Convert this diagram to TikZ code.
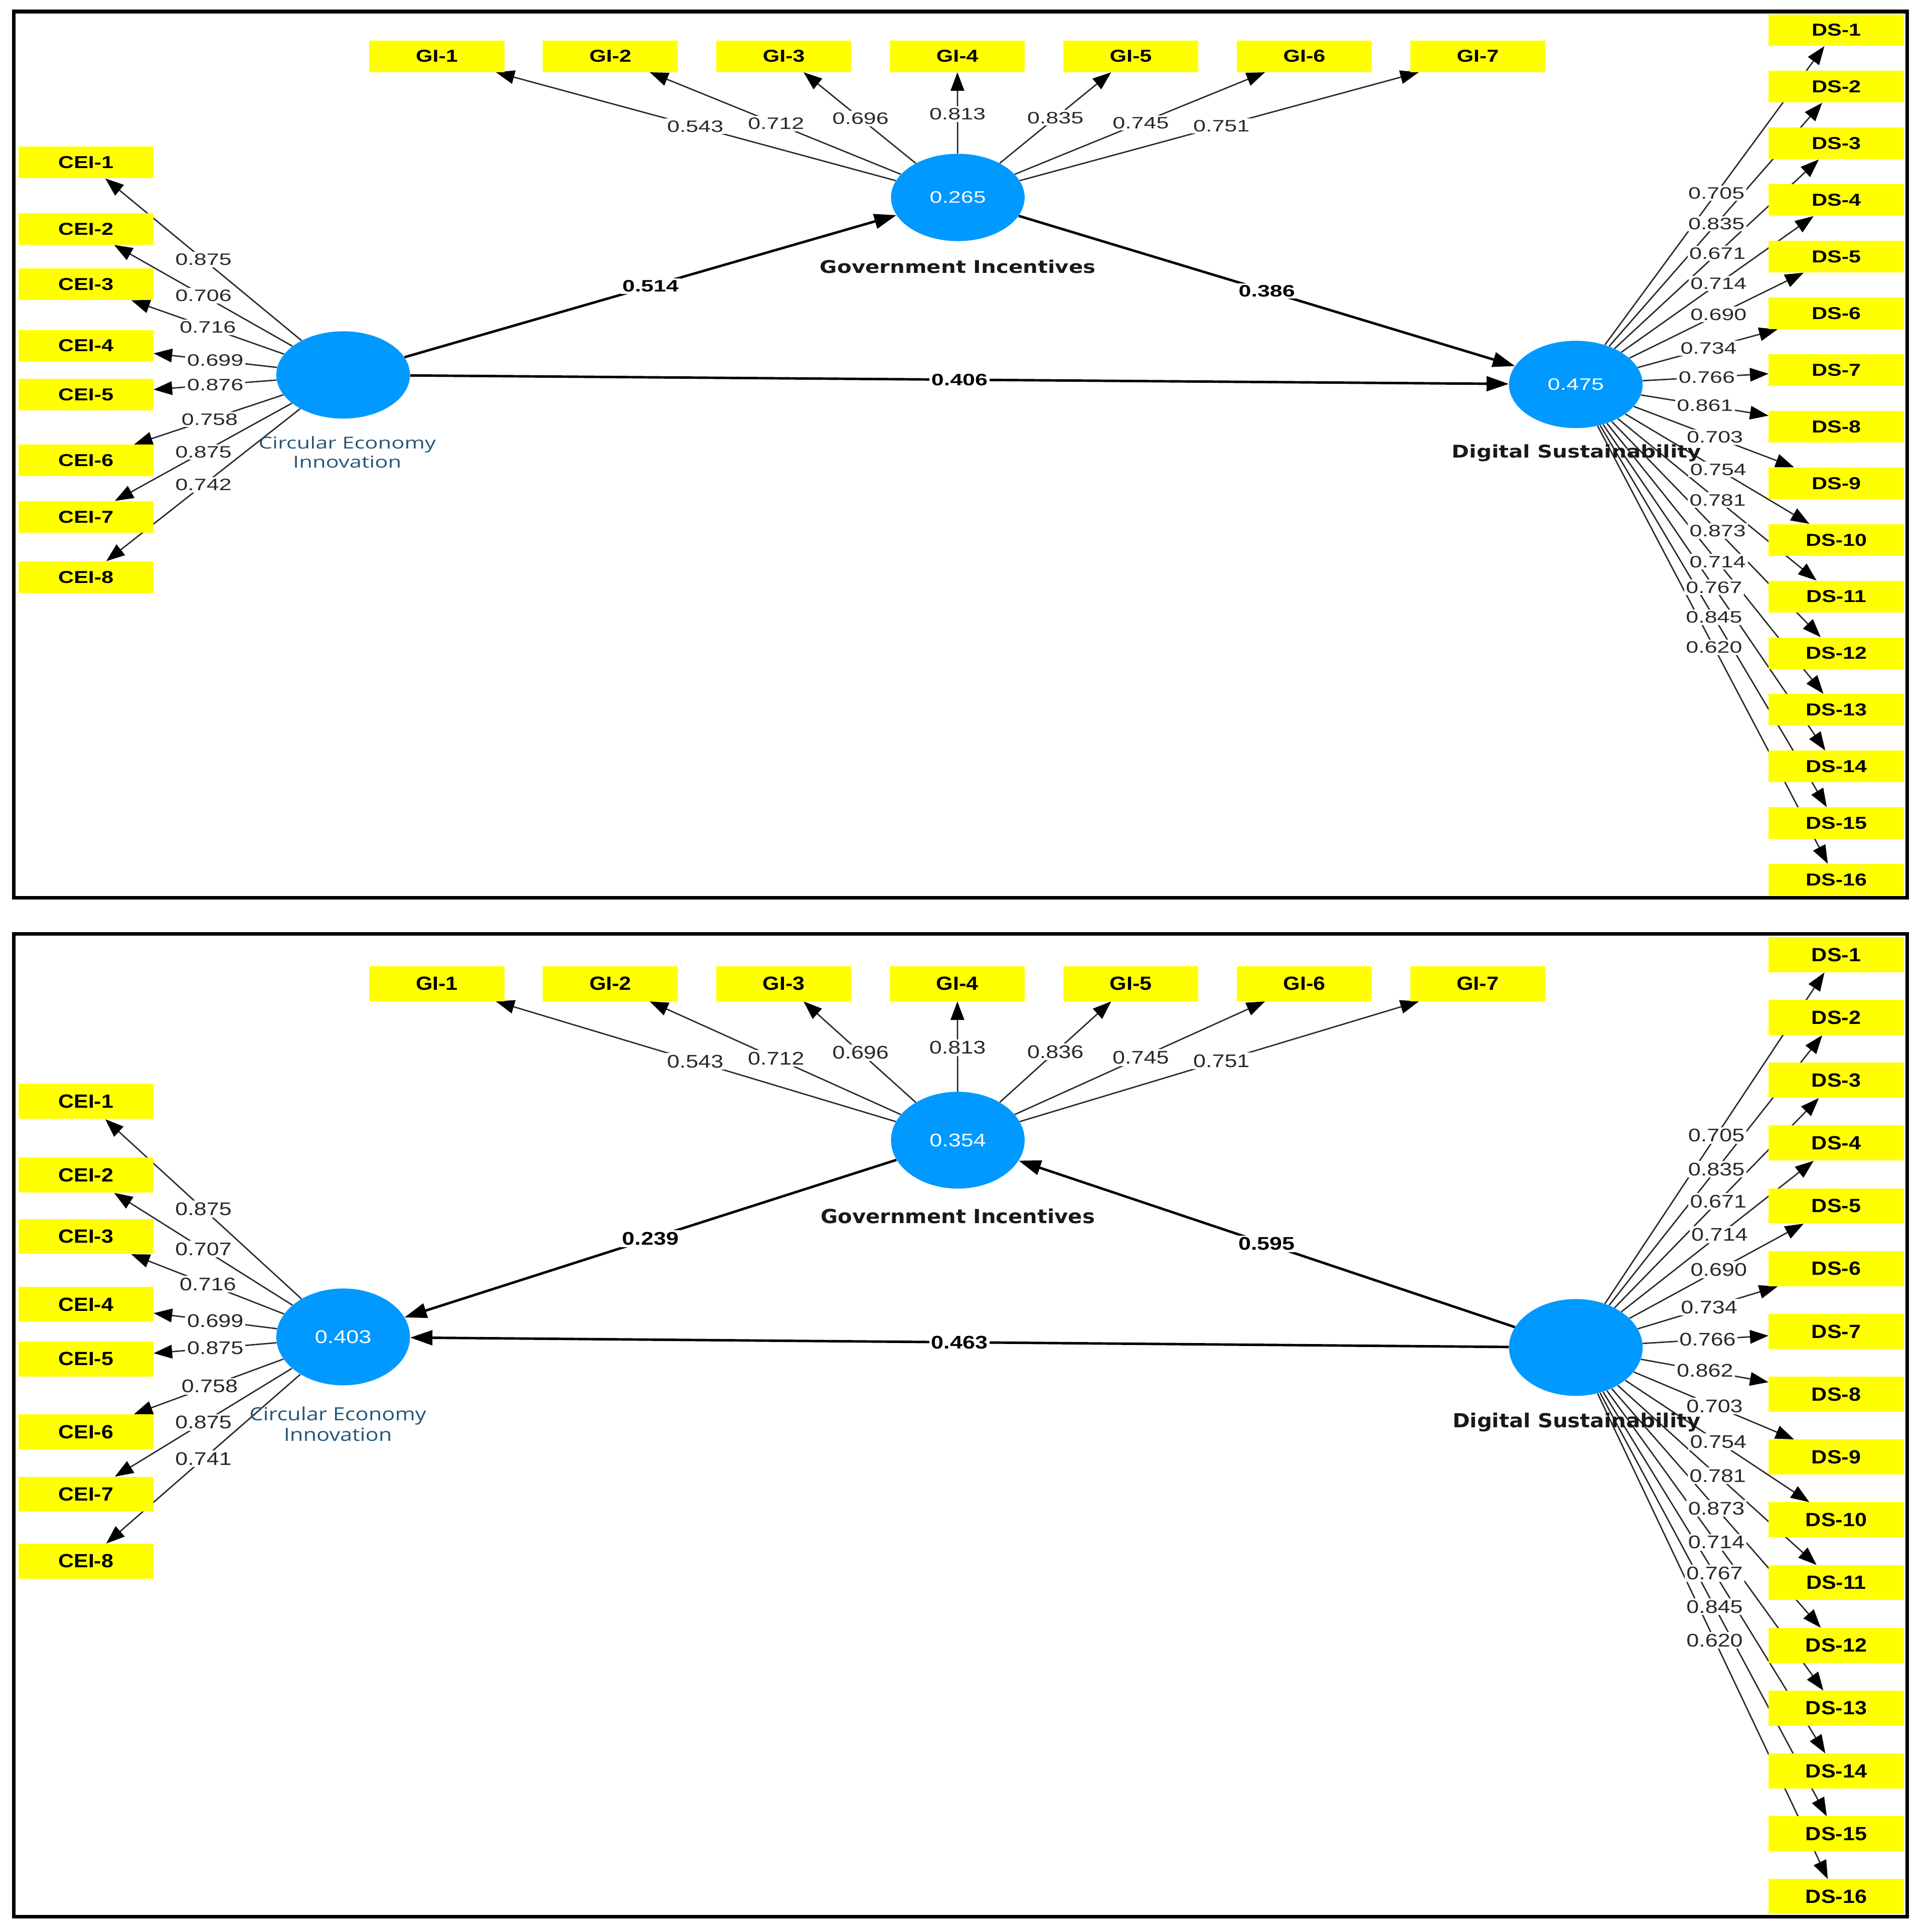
\documentclass[tikz,border=0pt]{standalone}
\usepackage{fontspec}
\usepackage{xcolor}
\usepackage{tikz}
\usetikzlibrary{positioning,shapes.geometric,arrows.meta,calc}
\definecolor{indyellow}{RGB}{255,255,0}
\definecolor{lvblue}{RGB}{0,153,255}
\definecolor{lvtext}{RGB}{35,85,120}
\definecolor{loadgray}{RGB}{40,40,40}
% stretched faces, the screenshot is wider than tall
\newfontfamily\boxA[FakeStretch=1.25]{Liberation Sans}
\newfontfamily\boxB[FakeStretch=1.13]{Liberation Sans}
\newfontfamily\plsA[FakeStretch=1.36]{Liberation Sans}
\newfontfamily\plsB[FakeStretch=1.23]{Liberation Sans}
\newfontfamily\lvA[FakeStretch=1.2]{DejaVu Sans}
\newfontfamily\lvB[FakeStretch=1.08]{DejaVu Sans}
\newfontfamily\segA[FakeStretch=1.33]{Open Sans}
\newfontfamily\segB[FakeStretch=1.2]{Open Sans}
\pgfdeclarelayer{edges}
\pgfsetlayers{edges,main}
\tikzset{
  ind/.style={fill=indyellow, minimum width=109.5pt, minimum height=\indh, inner sep=0pt, font=\indfont},
  lv/.style={ellipse, fill=lvblue, minimum width=108.4pt, minimum height=\lvh, inner sep=0pt, text=white, font=\numfont},
  lvname/.style={font=\namefont, text=black!90},
  ceiname/.style={font=\ceifont, text=lvtext, align=center},
  loading/.style={draw=loadgray, line width=1.1pt, -{Triangle[length=15pt,width=11pt,color=black]}},
  relation/.style={draw=black, line width=2pt, -{Triangle[length=18pt,width=12pt]}},
  loadlbl/.style={fill=white, inner sep=1.5pt, text=loadgray, font=\numfont},
  pathlbl/.style={fill=white, inner sep=1.5pt, font=\pathfont},
  frame/.style={draw=black, line width=3pt}
}
\begin{document}
\begin{tikzpicture}[x=1pt,y=-1pt]
\useasboundingbox (0,0) rectangle (1560,1566.5);
\begin{pgfonlayer}{edges}
  \fill[white] (0,0) rectangle (1560,1566.5);
\end{pgfonlayer}

% ---------------- upper model ----------------
\begin{scope}
  \def\indh{25.6pt}\def\lvh{70.8pt}
  \def\indfont{\boxA\bfseries\fontsize{14}{16}\selectfont}
  \def\numfont{\plsA\fontsize{13.4}{15}\selectfont}
  \def\pathfont{\plsA\bfseries\fontsize{13.4}{15}\selectfont}
  \def\namefont{\lvA\bfseries\fontsize{14.2}{16}\selectfont}
  \def\ceifont{\segA\fontsize{13.3}{15.3}\selectfont}
  \draw[frame] (11.1,9.3) rectangle (1546.7,728);

  \node[lv] (acei) at (278.3,304) {};
  \node[lv] (agi) at (776.8,160.1) {0.265};
  \node[lv] (ads) at (1278,311.7) {0.475};
  \node[ceiname] at (281.6,366.5) {Circular Economy\\Innovation};
  \node[lvname] at (776.8,216.3) {Government Incentives};
  \node[lvname] at (1278.6,367.3) {Digital Sustainability};

  % indicators
  \foreach \i in {1,...,7}
    \node[ind] (agi\i) at ({354.3+140.7*(\i-1)},45.6) {GI-\i};
  \foreach \i/\y in {1/131.7,2/185.6,3/230.5,4/280.3,5/320.1,6/373.4,7/419.1,8/468}
    \node[ind] (acei\i) at (69.65,\y) {CEI-\i};
  \foreach \i in {1,...,16}
    \node[ind] (ads\i) at (1489.2,{24.4+45.93*(\i-1)}) {DS-\i};

  % outer loadings
  \foreach \i/\p/\val in {1/0.504/0.543,2/0.523/0.712,3/0.559/0.696,4/0.591/0.813,
      5/0.564/0.835,6/0.528/0.745,7/0.507/0.751}{
    \begin{pgfonlayer}{edges}\draw[loading] (agi) -- (agi\i);\end{pgfonlayer}
    \node[loadlbl] at ($(agi)!\p!(agi\i)$) {\val};
  }
  \foreach \i/\p/\val in {1/0.543/0.875,2/0.543/0.706,3/0.526/0.716,4/0.497/0.699,
      5/0.497/0.876,6/0.519/0.758,7/0.543/0.875,8/0.543/0.742}{
    \begin{pgfonlayer}{edges}\draw[loading] (acei) -- (acei\i);\end{pgfonlayer}
    \node[loadlbl] at ($(acei)!\p!(acei\i)$) {\val};
  }
  \foreach \i/\p/\val in {1/0.540/0.705,2/0.540/0.835,3/0.544/0.671,4/0.548/0.714,
      5/0.548/0.690,6/0.510/0.734,7/0.503/0.766,8/0.496/0.861,9/0.534/0.703,
      10/0.547/0.754,11/0.545/0.781,12/0.545/0.873,13/0.545/0.714,14/0.531/0.767,
      15/0.531/0.845,16/0.531/0.620}{
    \begin{pgfonlayer}{edges}\draw[loading] (ads) -- (ads\i);\end{pgfonlayer}
    \node[loadlbl] at ($(ads)!\p!(ads\i)$) {\val};
  }

  % inner model
  \begin{pgfonlayer}{edges}
    \draw[relation] (acei) -- node[pathlbl] {0.514} (agi);
    \draw[relation] (agi) -- node[pathlbl] {0.386} (ads);
    \draw[relation] (acei) -- node[pathlbl] {0.406} (ads);
  \end{pgfonlayer}
\end{scope}

% ---------------- lower model ----------------
\begin{scope}[yshift=-747pt,yscale=1.1085]
  \def\indh{28.4pt}\def\lvh{78.5pt}
  \def\indfont{\boxB\bfseries\fontsize{15.5}{17.5}\selectfont}
  \def\numfont{\plsB\fontsize{14.85}{16.5}\selectfont}
  \def\pathfont{\plsB\bfseries\fontsize{14.85}{16.5}\selectfont}
  \def\namefont{\lvB\bfseries\fontsize{15.7}{17.5}\selectfont}
  \def\ceifont{\segB\fontsize{14.7}{17}\selectfont}
  \draw[frame] (11.2,9.3) rectangle (1546.7,728.1);

  \node[lv] (bcei) at (278.3,304) {0.403};
  \node[lv] (bgi) at (776.8,160.1) {0.354};
  \node[lv] (bds) at (1278,311.7) {};
  \node[ceiname] at (274,367.7) {Circular Economy\\Innovation};
  \node[lvname] at (776.8,215.6) {Government Incentives};
  \node[lvname] at (1278.6,366.6) {Digital Sustainability};

  % indicators
  \foreach \i in {1,...,7}
    \node[ind] (bgi\i) at ({354.3+140.7*(\i-1)},45.6) {GI-\i};
  \foreach \i/\y in {1/131.7,2/185.6,3/230.5,4/280.3,5/320.1,6/373.4,7/419.1,8/468}
    \node[ind] (bcei\i) at (69.65,\y) {CEI-\i};
  \foreach \i in {1,...,16}
    \node[ind] (bds\i) at (1489.2,{24.4+45.93*(\i-1)}) {DS-\i};

  % outer loadings
  \foreach \i/\p/\val in {1/0.504/0.543,2/0.523/0.712,3/0.559/0.696,4/0.591/0.813,
      5/0.564/0.836,6/0.528/0.745,7/0.507/0.751}{
    \begin{pgfonlayer}{edges}\draw[loading] (bgi) -- (bgi\i);\end{pgfonlayer}
    \node[loadlbl] at ($(bgi)!\p!(bgi\i)$) {\val};
  }
  \foreach \i/\p/\val in {1/0.543/0.875,2/0.543/0.707,3/0.526/0.716,4/0.497/0.699,
      5/0.497/0.875,6/0.519/0.758,7/0.543/0.875,8/0.543/0.741}{
    \begin{pgfonlayer}{edges}\draw[loading] (bcei) -- (bcei\i);\end{pgfonlayer}
    \node[loadlbl] at ($(bcei)!\p!(bcei\i)$) {\val};
  }
  \foreach \i/\p/\val in {1/0.540/0.705,2/0.540/0.835,3/0.547/0.671,4/0.552/0.714,
      5/0.549/0.690,6/0.512/0.734,7/0.506/0.766,8/0.496/0.862,9/0.533/0.703,
      10/0.547/0.754,11/0.545/0.781,12/0.540/0.873,13/0.540/0.714,14/0.533/0.767,
      15/0.533/0.845,16/0.533/0.620}{
    \begin{pgfonlayer}{edges}\draw[loading] (bds) -- (bds\i);\end{pgfonlayer}
    \node[loadlbl] at ($(bds)!\p!(bds\i)$) {\val};
  }

  % inner model
  \begin{pgfonlayer}{edges}
    \draw[relation] (bgi) -- node[pathlbl] {0.239} (bcei);
    \draw[relation] (bds) -- node[pathlbl] {0.595} (bgi);
    \draw[relation] (bds) -- node[pathlbl] {0.463} (bcei);
  \end{pgfonlayer}
\end{scope}
\end{tikzpicture}
\end{document}
